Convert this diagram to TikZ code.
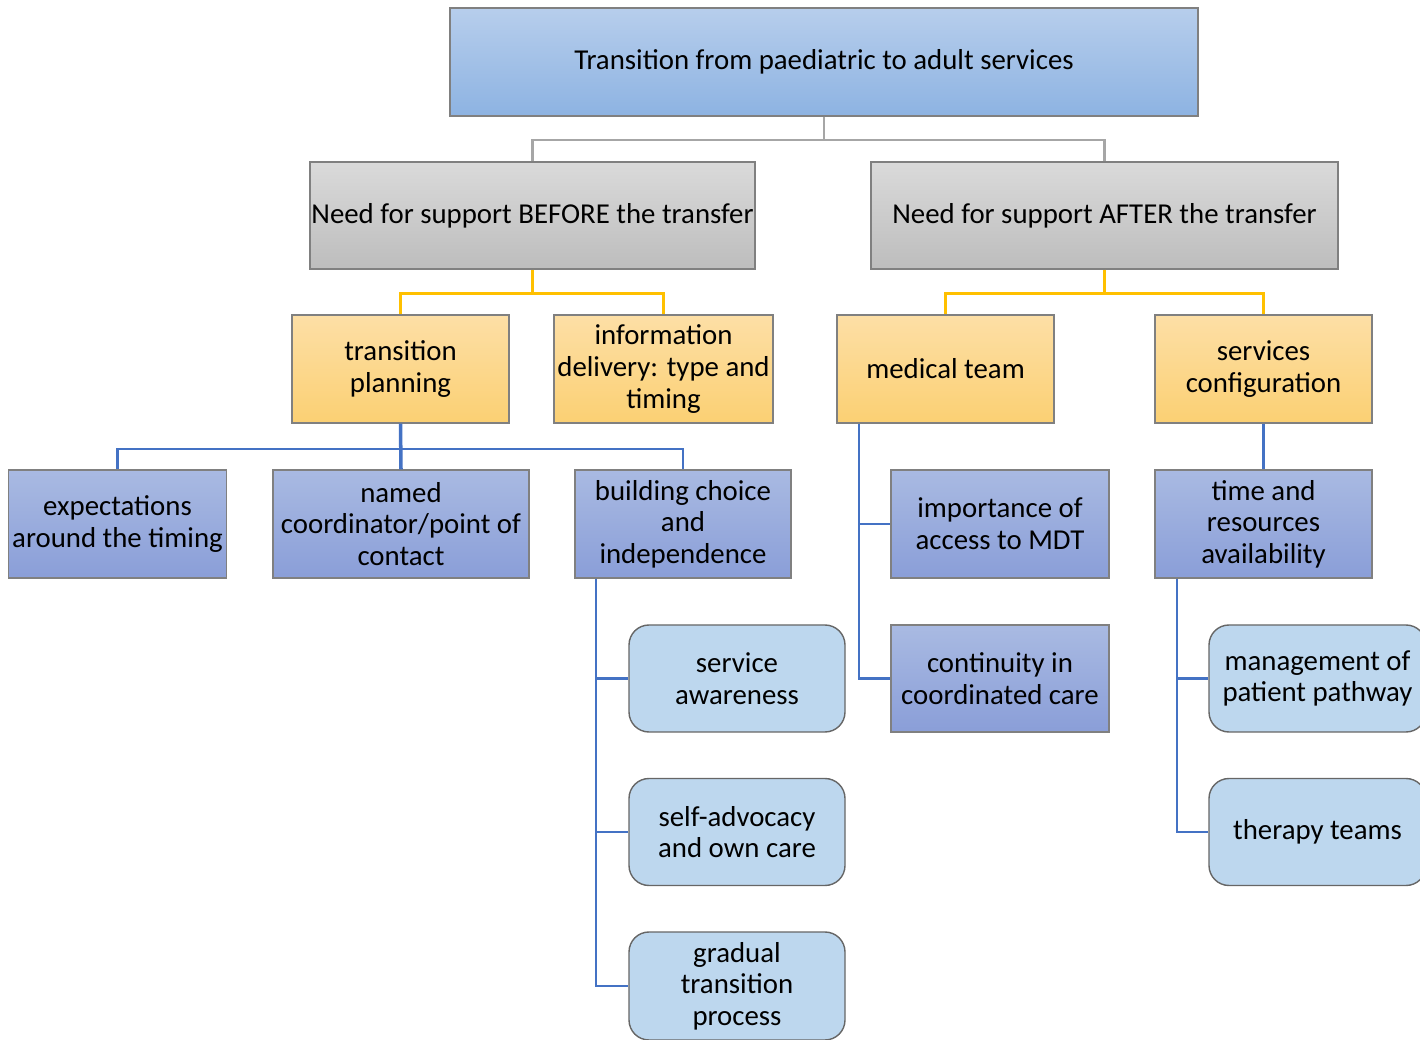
\documentclass[tikz,border=0pt]{standalone}
\usepackage{fontspec}
\setmainfont{Carlito}
\definecolor{roottop}{HTML}{B7CEEC}
\definecolor{rootbot}{HTML}{8DB3E2}
\definecolor{greytop}{HTML}{DADADA}
\definecolor{greybot}{HTML}{BDBDBD}
\definecolor{ambertop}{HTML}{FDDFA6}
\definecolor{amberbot}{HTML}{FBD073}
\definecolor{lavtop}{HTML}{A9BAE2}
\definecolor{lavbot}{HTML}{8A9ED8}
\definecolor{paleblue}{HTML}{BDD7EE}
\definecolor{greyline}{HTML}{A6A6A6}
\definecolor{amberline}{HTML}{FFC000}
\definecolor{blueline}{HTML}{4472C4}
\begin{document}
\begin{tikzpicture}[x=1cm,y=1cm]
\tikzset{
  box/.style={draw=black!50, line width=0.4pt, minimum width=2.17cm,
    minimum height=1.08cm, align=center, inner sep=1pt,
    font=\fontsize{8.2}{9}\selectfont},
  rootbox/.style={box, top color=roottop, bottom color=rootbot},
  greybox/.style={box, inner xsep=0pt, top color=greytop, bottom color=greybot},
  amberbox/.style={box, top color=ambertop, bottom color=amberbot},
  lavbox/.style={box, top color=lavtop, bottom color=lavbot},
  leafbox/.style={box, fill=paleblue, draw=black!60, rounded corners=0.2cm},
  greyln/.style={draw=greyline, line width=0.6pt},
  amberln/.style={draw=amberline, line width=0.7pt},
  blueln/.style={draw=blueline, line width=0.6pt}
}
\useasboundingbox (0,0) rectangle (14.2,-10.4);
% level 0 and 1
\node[rootbox, minimum width=7.48cm] (root) at (8.24,-0.62) {Transition from paediatric to adult services};
\node[greybox, minimum width=4.45cm, minimum height=1.07cm] (before) at (5.325,-2.155) {Need for support BEFORE the transfer};
\node[greybox, minimum width=4.67cm, minimum height=1.07cm] (after) at (11.045,-2.155) {Need for support AFTER the transfer};
% level 2
\node[amberbox] (plan) at (4.005,-3.69) {transition\\planning};
\node[amberbox] (info) at (6.635,-3.69) {information\\delivery: type and\\timing};
\node[amberbox] (medteam) at (9.455,-3.69) {medical team};
\node[amberbox] (config) at (12.635,-3.69) {services\\configuration};
% level 3
\node[lavbox] (expect) at (1.175,-5.24) {expectations\\around the timing};
\node[lavbox, minimum width=2.56cm] (named) at (4.01,-5.24) {named\\coordinator/point of\\contact};
\node[lavbox, minimum width=2.16cm] (choice) at (6.83,-5.24) {building choice\\and\\independence};
\node[lavbox, minimum width=2.18cm] (mdt) at (10.0,-5.24) {importance of\\access to MDT};
\node[lavbox] (resources) at (12.635,-5.24) {time and\\resources\\availability};
% level 4
\node[leafbox, minimum width=2.16cm, minimum height=1.07cm] (aware) at (7.37,-6.785) {service\\awareness};
\node[leafbox, minimum width=2.16cm, minimum height=1.07cm] (advocacy) at (7.37,-8.32) {self-advocacy\\and own care};
\node[leafbox, minimum width=2.16cm] (gradual) at (7.37,-9.86) {gradual\\transition\\process};
\node[lavbox, minimum width=2.18cm, minimum height=1.07cm] (contin) at (10.0,-6.785) {continuity in\\coordinated care};
\node[leafbox, minimum height=1.07cm] (pathway) at (13.175,-6.785) {management of\\patient pathway};
\node[leafbox, minimum height=1.07cm] (therapy) at (13.175,-8.32) {therapy teams};
% connectors
\draw[greyln] (root.south) -- ++(0,-0.23) -| (before.north);
\draw[greyln] (root.south) -- ++(0,-0.23) -| (after.north);
\draw[amberln] (before.south) -- ++(0,-0.24) -| (plan.north);
\draw[amberln] (before.south) -- ++(0,-0.24) -| (info.north);
\draw[amberln] (after.south) -- ++(0,-0.24) -| (medteam.north);
\draw[amberln] (after.south) -- ++(0,-0.24) -| (config.north);
\draw[blueln] (plan.south) -- ++(0,-0.25) -| (expect.north);
\draw[blueln, line width=1pt] (plan.south) -- (named.north);
\draw[blueln] (plan.south) -- ++(0,-0.25) -| (choice.north);
\draw[blueln] ([xshift=0.22cm]choice.south west) |- (aware.west);
\draw[blueln] ([xshift=0.22cm]choice.south west) |- (advocacy.west);
\draw[blueln] ([xshift=0.22cm]choice.south west) |- (gradual.west);
\draw[blueln] ([xshift=0.23cm]medteam.south west) |- (mdt.west);
\draw[blueln] ([xshift=0.23cm]medteam.south west) |- (contin.west);
\draw[blueln, line width=1pt] (config.south) -- (resources.north);
\draw[blueln] ([xshift=0.23cm]resources.south west) |- (pathway.west);
\draw[blueln] ([xshift=0.23cm]resources.south west) |- (therapy.west);
\end{tikzpicture}
\end{document}
